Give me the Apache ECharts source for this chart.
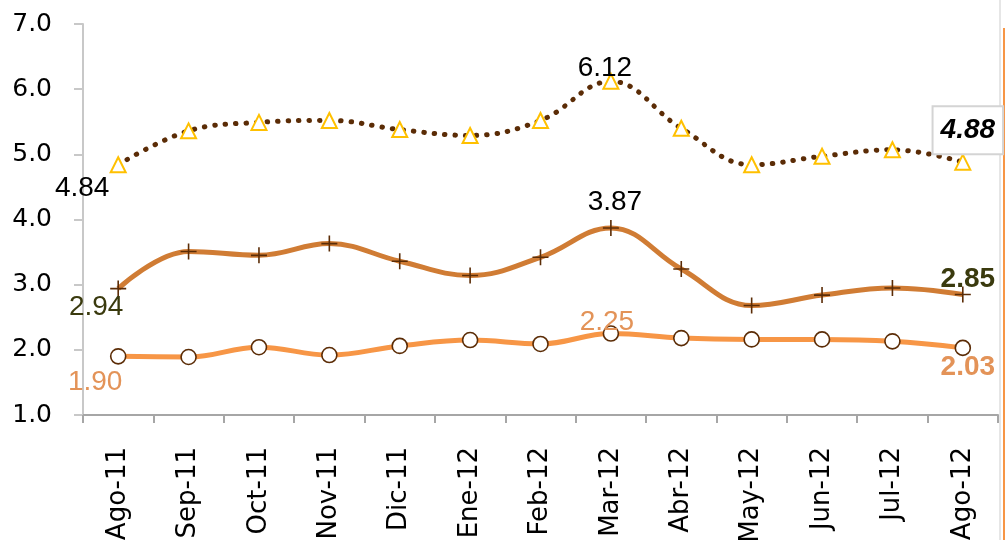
<!DOCTYPE html>
<html><head><meta charset="utf-8">
<script src="https://cdn.jsdelivr.net/npm/echarts@6/dist/echarts.min.js"></script>
<style>html,body{margin:0;padding:0;background:#fff}#c{width:1008px;height:540px}</style>
</head><body><div id="c"></div>
<script>
const categories = ['Ago-11','Sep-11','Oct-11','Nov-11','Dic-11','Ene-12','Feb-12','Mar-12','Abr-12','May-12','Jun-12','Jul-12','Ago-12'];
const topSeries = [4.84, 5.36, 5.49, 5.52, 5.38, 5.29, 5.52, 6.12, 5.40, 4.84, 4.97, 5.07, 4.88];
const midSeries = [2.94, 3.51, 3.45, 3.63, 3.36, 3.14, 3.42, 3.87, 3.24, 2.68, 2.84, 2.95, 2.85];
const lowSeries = [1.90, 1.89, 2.04, 1.92, 2.06, 2.15, 2.09, 2.25, 2.18, 2.16, 2.16, 2.13, 2.03];
const yTicks = [1, 2, 3, 4, 5, 6, 7];

const F = 'DejaVu Sans';
const LF = 'Liberation Sans';
function lbl(offset, color, extra) {
  return Object.assign({show: true, position: 'inside', offset: offset, color: color,
    fontFamily: LF, fontSize: 28, formatter: p => p.value.toFixed(2)}, extra || {});
}
function build(values, labels) {
  return values.map((v, i) => labels[i] ? {value: v, label: labels[i]} : v);
}
const last = categories.length - 1;
const topLabels = {0: lbl([-36, 24], '#000'), 7: lbl([-6, -13], '#000'),
  [last]: lbl([5, -32], '#000', {fontWeight: 'bold', fontStyle: 'italic', backgroundColor: '#fff',
    borderColor: '#d4d4d4', borderWidth: 2, padding: [9, 7, 9, 7]})};
const midLabels = {0: lbl([-22, 19], '#3a3a0e'), 7: lbl([4, -26], '#000'),
  [last]: lbl([5, -15], '#3a3a0e', {fontWeight: 'bold'})};
const lowLabels = {0: lbl([-23, 26], '#e39358'), 7: lbl([-4, -11], '#e39358'),
  [last]: lbl([5, 19], '#e39358', {fontWeight: 'bold'})};

const plus = 'path://M4.5,0h1v4.5h4.5v1h-4.5v4.5h-1v-4.5h-4.5v-1h4.5z';
const chart = echarts.init(document.getElementById('c'), null, {renderer: 'canvas'});
chart.setOption({
  animation: false,
  grid: {left: 83, right: 10, top: 24, bottom: 125, outerBoundsMode: 'none', containLabel: false},
  xAxis: {type: 'category', data: categories, boundaryGap: true,
    axisLine: {lineStyle: {color: '#a6a6a6', width: 2}},
    axisTick: {show: true, length: 8, lineStyle: {color: '#a6a6a6', width: 2}},
    axisLabel: {rotate: 90, margin: 32, color: '#000', fontFamily: F, fontSize: 26}},
  yAxis: {type: 'value', min: yTicks[0], max: yTicks[yTicks.length - 1], interval: 1,
    axisLine: {show: true, lineStyle: {color: '#c8c8c8', width: 2}},
    axisTick: {show: true, length: 9, lineStyle: {color: '#c8c8c8', width: 2}},
    splitLine: {show: false},
    axisLabel: {margin: 31, color: '#000', fontFamily: F, fontSize: 25, formatter: v => v.toFixed(1)}},
  series: [
    {type: 'line', smooth: 0.4, data: build(topSeries, topLabels), z: 3,
      lineStyle: {color: '#5b2c06', width: 5, type: [0.5, 10], cap: 'round'},
      symbol: 'triangle', symbolSize: 15,
      itemStyle: {color: '#fff', borderColor: '#ffc000', borderWidth: 2}},
    {type: 'line', smooth: 0.4, data: build(midSeries, midLabels), z: 2,
      lineStyle: {color: '#d07c34', width: 5},
      symbol: plus, symbolSize: 16, itemStyle: {color: '#5b2c06', borderWidth: 0}},
    {type: 'line', smooth: 0.4, data: build(lowSeries, lowLabels), z: 2,
      lineStyle: {color: '#f79646', width: 5},
      symbol: 'circle', symbolSize: 15,
      itemStyle: {color: '#fff', borderColor: '#5b2c06', borderWidth: 1.6}}
  ],
  graphic: [
    {type: 'line', shape: {x1: 1000, y1: 0, x2: 1000, y2: 540}, style: {stroke: '#e6e6e6', lineWidth: 2}},
    {type: 'line', shape: {x1: 1004, y1: 28, x2: 1004, y2: 540}, style: {stroke: '#f79646', lineWidth: 2}}
  ]
});
</script></body></html>
